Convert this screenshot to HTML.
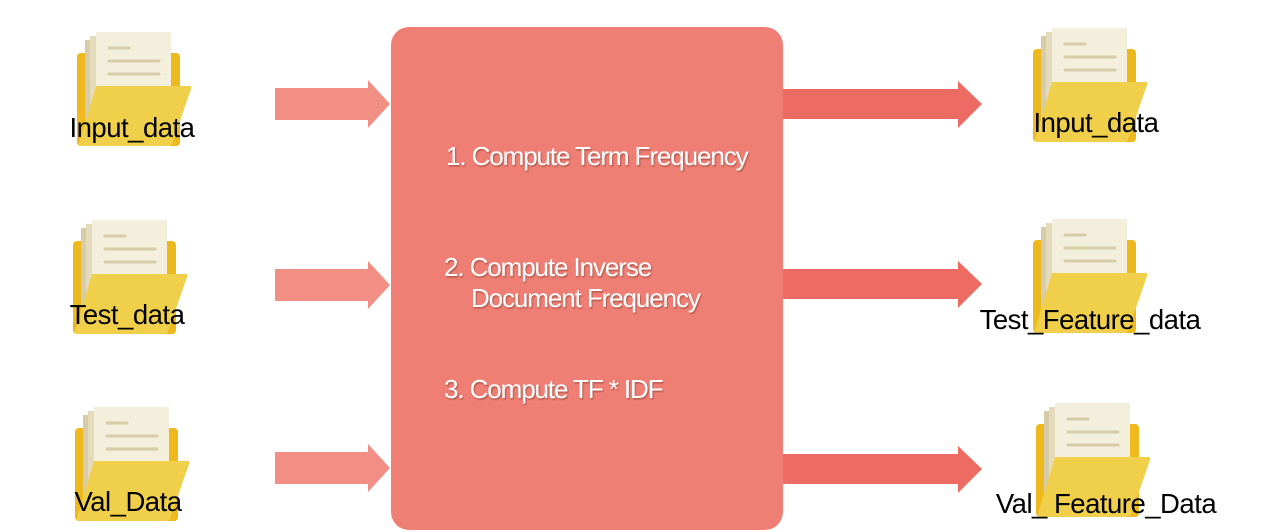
<!DOCTYPE html>
<html><head><meta charset="utf-8"><style>
html,body{margin:0;padding:0;background:#fff;width:1280px;height:532px;overflow:hidden}
svg{display:block}
.lbl{font-family:"Liberation Sans",sans-serif;font-size:27.5px;fill:#000;text-anchor:middle;letter-spacing:-0.5px}
.st{font-family:"Liberation Sans",sans-serif;font-size:26px;fill:#fff;letter-spacing:-1.1px;filter:url(#sh)}
</style></head><body>
<svg width="1280" height="532" viewBox="0 0 1280 532" xmlns="http://www.w3.org/2000/svg">
<defs>
<filter id="sh" x="-10%" y="-30%" width="120%" height="160%"><feDropShadow dx="1" dy="1.5" stdDeviation="0.8" flood-color="#8a3a33" flood-opacity="0.6"/></filter>
<g id="fold">
<rect x="0" y="21" width="103" height="93" rx="4" fill="#EDB91C"/>
<rect x="8" y="8" width="62" height="92" fill="#D6CCAA"/>
<rect x="13" y="4" width="66" height="92" fill="#E4DBBB"/>
<rect x="19" y="0" width="75" height="82" fill="#F4EEDC"/>
<g stroke="#D6CCA8" stroke-width="3" stroke-linecap="round">
<line x1="32" y1="16" x2="52" y2="16"/><line x1="32" y1="29" x2="82" y2="29"/><line x1="32" y1="42" x2="82" y2="42"/>
</g>
<path d="M19 54 L113 54 Q115 54 114 57 L95 112 Q94 114 91 114 L4 114 Q1 114 2 111 Z" fill="#F0D04B"/>
</g>
</defs>
<rect x="391" y="27" width="392" height="503" rx="18" fill="#EF7F74"/>
<use href="#fold" x="77" y="32"/>
<use href="#fold" x="73" y="220"/>
<use href="#fold" x="75" y="407"/>
<use href="#fold" x="1033" y="28"/>
<use href="#fold" x="1033" y="219"/>
<use href="#fold" x="1036" y="403"/>
<g fill="#F28F85">
<path d="M275 88 H368 V80 L390 104 L368 128 V120 H275 Z"/>
<path d="M275 269 H368 V261 L390 285 L368 309 V301 H275 Z"/>
<path d="M275 452 H368 V444 L390 468 L368 492 V484 H275 Z"/>
</g>
<g fill="#EC6B62">
<path d="M783 89 H958 V81 L982 104 L958 128 V119 H783 Z"/>
<path d="M783 269 H958 V261 L982 284 L958 308 V299 H783 Z"/>
<path d="M783 454 H958 V446 L982 469 L958 493 V484 H783 Z"/>
</g>
<text class="lbl" x="132" y="137">Input_data</text>
<text class="lbl" x="127" y="324">Test_data</text>
<text class="lbl" x="128" y="511">Val_Data</text>
<text class="lbl" x="1096" y="132">Input_data</text>
<text class="lbl" x="1090" y="329">Test_Feature_data</text>
<text class="lbl" x="1106" y="513">Val_ Feature_Data</text>
<text class="st" x="446" y="165">1. Compute Term Frequency</text>
<text class="st" x="444" y="276">2. Compute Inverse</text>
<text class="st" x="471" y="307">Document Frequency</text>
<text class="st" x="444" y="398">3. Compute TF * IDF</text>
</svg>
</body></html>
